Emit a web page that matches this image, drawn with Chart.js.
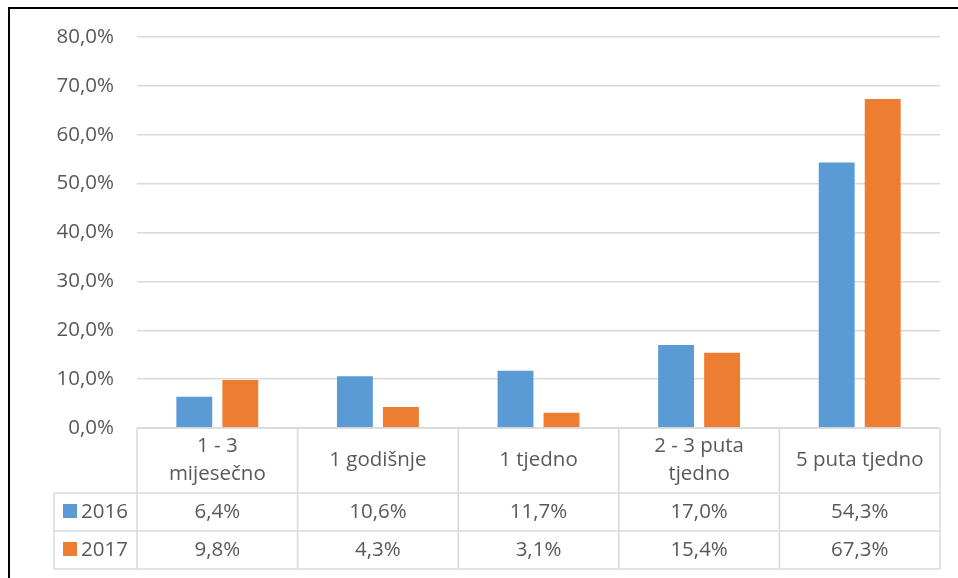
<!DOCTYPE html>
<html>
<head>
<meta charset="utf-8">
<script src="https://cdn.jsdelivr.net/npm/chart.js@4/dist/chart.umd.min.js"></script>
<style>
html,body{margin:0;padding:0;background:#fff;}
canvas{display:block;}
</style>
</head>
<body>
<canvas id="c" width="958" height="578"></canvas>
<script>
const categories = [["1 - 3","mijesečno"],["1 godišnje"],["1 tjedno"],["2 - 3 puta","tjedno"],["5 puta tjedno"]];
const seriesNames = ["2016","2017"];
const values2016 = [6.4, 10.6, 11.7, 17.0, 54.3];
const values2017 = [9.8, 4.3, 3.1, 15.4, 67.3];
const colors = ["#5B9BD5","#ED7D31"];
const FONT = "'Open Sans', 'Noto Sans', sans-serif";
const TEXT = "#595959";
const GRID = "#d9d9d9";
const FS = 20.5;

function fmt(v){ return v.toFixed(1).replace('.', ',') + '%'; }

const tablePlugin = {
  id: 'dataTable',
  afterDraw(chart){
    const ctx = chart.ctx;
    const xs = chart.scales.x;
    const ca = chart.chartArea;
    const n = categories.length;
    const cw = (ca.right - ca.left) / n;
    const top = ca.bottom, hb = 493, r1 = 531, r2 = 569, leftCol = 54;
    ctx.save();
    ctx.strokeStyle = GRID;
    ctx.lineWidth = 1.5;
    ctx.beginPath();
    ctx.moveTo(ca.left, top); ctx.lineTo(ca.right, top);
    [hb, r1, r2].forEach(y => { ctx.moveTo(leftCol, y); ctx.lineTo(ca.right, y); });
    for (let i = 0; i <= n; i++) {
      const x = ca.left + i * cw;
      ctx.moveTo(x, top); ctx.lineTo(x, r2);
    }
    ctx.moveTo(leftCol, hb); ctx.lineTo(leftCol, r2);
    ctx.stroke();

    ctx.fillStyle = TEXT;
    ctx.font = FS + "px " + FONT;
    ctx.textAlign = 'center';
    ctx.textBaseline = 'middle';
    const rows = [values2016, values2017];
    categories.forEach((lab, i) => {
      const cx = xs.getPixelForValue(i);
      const mid = (top + hb) / 2;
      const lh = 28;
      lab.forEach((line, k) => {
        ctx.fillText(line, cx, mid + (k - (lab.length - 1) / 2) * lh);
      });
      rows.forEach((arr, r) => {
        const y = r === 0 ? (hb + r1) / 2 : (r1 + r2) / 2;
        ctx.fillText(fmt(arr[i]), cx, y);
      });
    });
    seriesNames.forEach((name, r) => {
      const y = r === 0 ? (hb + r1) / 2 : (r1 + r2) / 2;
      ctx.fillStyle = colors[r];
      ctx.fillRect(63, y - 8, 14, 14);
      ctx.fillStyle = TEXT;
      ctx.textAlign = 'left';
      ctx.fillText(name, 81, y);
    });
    ctx.restore();

    ctx.save();
    ctx.strokeStyle = '#000';
    ctx.lineWidth = 2;
    ctx.beginPath();
    ctx.moveTo(9, 578); ctx.lineTo(9, 8); ctx.lineTo(958, 8);
    ctx.stroke();
    ctx.restore();
  }
};

new Chart(document.getElementById('c'), {
  type: 'bar',
  data: {
    labels: categories,
    datasets: [
      { label: seriesNames[0], data: values2016, backgroundColor: colors[0], categoryPercentage: 0.573, barPercentage: 0.78 },
      { label: seriesNames[1], data: values2017, backgroundColor: colors[1], categoryPercentage: 0.573, barPercentage: 0.78 }
    ]
  },
  options: {
    responsive: false,
    animation: false,
    layout: { padding: { top: 37, right: 18, bottom: 150, left: 0 } },
    plugins: { legend: { display: false }, tooltip: { enabled: false } },
    scales: {
      x: {
        grid: { display: false },
        border: { display: false },
        ticks: { display: false },
        afterFit(s){ s.height = 0; }
      },
      y: {
        min: 0, max: 80,
        ticks: { stepSize: 10, color: TEXT, font: { family: FONT, size: FS }, padding: 23, callback: v => fmt(v) },
        grid: { color: GRID, lineWidth: 1.5, drawTicks: false },
        border: { display: false },
        afterFit(s){ s.width = 137; }
      }
    }
  },
  plugins: [tablePlugin]
});
</script>
</body>
</html>
